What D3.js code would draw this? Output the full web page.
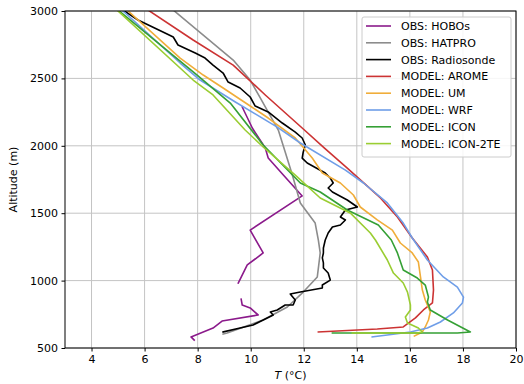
<!DOCTYPE html>
<html><head><meta charset="utf-8">
<script src="https://cdn.jsdelivr.net/npm/d3@7"></script>
<style>body{margin:0;background:#fff} text{font-family:"DejaVu Sans",sans-serif}</style>
</head><body><svg id="c" width="524" height="384"></svg>
<script>
const xTicks=[4,6,8,10,12,14,16,18,20];
const yTicks=[500,1000,1500,2000,2500,3000];
const seriesNames=["OBS: HOBOs","OBS: HATPRO","OBS: Radiosonde","MODEL: AROME","MODEL: UM","MODEL: WRF","MODEL: ICON","MODEL: ICON-2TE"];
const seriesColors=["#8b1a8b","#8c8c8c","#000000","#cc3333","#f0ad3a","#6f9ee8","#35a035","#9acd32"];
// [temperature °C, altitude m]
const hobos=[[9.68,2288],[10.06,2132],[10.55,1984],[10.66,1909],[11.23,1783],[11.94,1628],[9.98,1375],[10.47,1205],[9.87,1116],[9.53,982],null,[9.64,863],[9.68,819],[9.98,797],[10.28,745],[8.92,700],[8.58,648],[7.75,582],[7.87,559]];
const hatpro=[[7.08,3007],[9.34,2636],[9.98,2488],[10.36,2355],[11.04,2117],[11.30,1954],[11.57,1783],[11.87,1576],[12.43,1427],[12.55,1301],[12.62,1205],[12.51,1027],[11.98,915],[11.38,804],[10.47,708],[9.11,611],[8.96,604]];
const radiosonde=[[5.19,3007],[5.75,2933],[6.77,2837],[7.08,2807],[7.26,2748],[7.91,2688],[8.28,2651],[8.58,2599],[8.96,2540],[9.15,2473],[9.60,2429],[9.98,2362],[10.17,2295],[10.66,2251],[11.19,2169],[11.68,2102],[11.94,2058],[12.06,2006],[11.98,1954],[11.94,1909],[12.13,1872],[12.81,1798],[13.0,1761],[13.11,1724],[12.92,1687],[13.08,1657],[13.64,1598],[14.02,1546],[13.57,1524],[13.38,1472],[13.57,1450],[13.38,1412],[13.08,1398],[12.92,1353],[12.81,1301],[12.74,1242],[12.74,1205],[12.70,1168],[12.74,1131],[12.74,1093],[12.92,1056],[13.0,1004],[12.70,967],[12.70,945],[11.87,915],[11.49,901],[11.68,856],[11.60,819],[11.30,819],[11.0,782],[10.74,767],[10.85,745],[10.47,708],[10.09,671],[9.60,648],[8.96,619]];
const arome=[[6.13,3007],[7.83,2785],[9.34,2599],[10.55,2377],[11.94,2132],[12.77,1984],[13.64,1835],[14.89,1613],[15.53,1472],[16.09,1316],[16.66,1175],[16.85,1079],[16.89,930],[16.85,834],[16.51,782],[16.21,723],[15.75,656],[14.77,641],[12.55,619]];
const um=[[5.34,3007],[7.34,2651],[8.21,2525],[8.96,2429],[9.98,2295],[10.66,2206],[11.68,2058],[12.32,1909],[12.70,1798],[13.38,1724],[13.87,1635],[14.13,1546],[14.77,1450],[15.34,1375],[15.64,1279],[16.09,1205],[16.32,1138],[16.40,1027],[16.47,930],[16.58,856],[16.77,767],[16.70,708],[16.58,656],[16.47,619],[16.17,589]];
const wrf=[[5.15,3007],[7.34,2614],[8.09,2488],[9.42,2325],[11.0,2139],[11.87,2021],[13.57,1820],[14.25,1724],[15.15,1576],[15.75,1427],[16.09,1316],[16.66,1153],[17.26,1027],[17.79,952],[18.02,878],[17.98,834],[17.64,760],[17.15,693],[16.66,648],[16.02,619],[15.15,596],[14.58,582]];
const icon=[[5.0,3007],[7.98,2525],[9.23,2317],[10.47,2006],[11.87,1724],[12.62,1657],[13.64,1524],[14.81,1412],[15.30,1301],[15.53,1205],[15.75,1079],[16.28,1019],[16.58,967],[16.70,878],[16.66,841],[16.77,782],[17.42,708],[18.28,619],[17.79,611],[15.38,611],[13.08,611]];
const icon2te=[[4.96,3007],[7.83,2488],[8.58,2377],[9.79,2117],[10.47,1991],[11.68,1783],[12.62,1613],[13.75,1502],[14.51,1353],[14.70,1301],[15.15,1153],[15.38,1056],[15.75,982],[15.91,915],[16.02,819],[16.02,782],[15.83,730],[15.91,686],[16.32,648],[16.47,619],[16.28,611],[13.83,611]];
const allSeries=[hobos,hatpro,radiosonde,arome,um,wrf,icon,icon2te];

const L=65,R=516,T=11,B=348;
const svg=d3.select("#c");
const x=d3.scaleLinear().domain([3,20]).range([L,R]);
const y=d3.scaleLinear().domain([500,3000]).range([B,T]);

// grid
const g=svg.append("g");
g.selectAll(".gx").data(xTicks).enter().append("line")
 .attr("x1",d=>x(d)).attr("x2",d=>x(d)).attr("y1",T).attr("y2",B)
 .attr("stroke","#c4c4c4").attr("stroke-width",1);
g.selectAll(".gy").data(yTicks).enter().append("line")
 .attr("y1",d=>y(d)).attr("y2",d=>y(d)).attr("x1",L).attr("x2",R)
 .attr("stroke","#c4c4c4").attr("stroke-width",1);

svg.append("clipPath").attr("id","clip").append("rect").attr("x",L).attr("y",T).attr("width",R-L).attr("height",B-T);

const line=d3.line().defined(d=>d!==null).x(d=>x(d[0])).y(d=>y(d[1]));
const lg=svg.append("g").attr("clip-path","url(#clip)");
allSeries.forEach((s,i)=>{
 lg.append("path").attr("d",line(s)).attr("fill","none")
  .attr("stroke",seriesColors[i]).attr("stroke-width",1.6)
  .attr("stroke-linejoin","round").attr("stroke-linecap","square");
});

// axes
const xa=svg.append("g").attr("transform",`translate(0,${B})`)
 .call(d3.axisBottom(x).tickValues(xTicks).tickSize(3.5).tickPadding(3.5).tickFormat(d3.format("d")));
const ya=svg.append("g").attr("transform",`translate(${L},0)`)
 .call(d3.axisLeft(y).tickValues(yTicks).tickSize(3.5).tickPadding(3.5).tickFormat(d3.format("d")));
[xa,ya].forEach(a=>{a.select(".domain").remove();a.selectAll("text").attr("font-size",11).attr("fill","#000").style("font-family","DejaVu Sans");a.selectAll("line").attr("stroke","#000");});
svg.append("rect").attr("x",L).attr("y",T).attr("width",R-L).attr("height",B-T)
 .attr("fill","none").attr("stroke","#000").attr("stroke-width",1);

// axis labels
svg.append("text").attr("transform",`translate(17,${(T+B)/2}) rotate(-90)`)
 .attr("text-anchor","middle").attr("font-size",11).text("Altitude (m)");
const xl=svg.append("text").attr("x",(L+R)/2).attr("y",379).attr("text-anchor","middle").attr("font-size",11);
xl.append("tspan").attr("font-style","italic").text("T");
xl.append("tspan").text(" (°C)");

// legend
const lgd=svg.append("g");
lgd.append("rect").attr("x",362).attr("y",17).attr("width",149).attr("height",140).attr("rx",2)
 .attr("fill","#fff").attr("fill-opacity",0.85).attr("stroke","#cccccc");
seriesNames.forEach((n,i)=>{
 const yy=26+i*16.8;
 lgd.append("line").attr("x1",366).attr("x2",391).attr("y1",yy).attr("y2",yy)
  .attr("stroke",seriesColors[i]).attr("stroke-width",1.6);
 lgd.append("text").attr("x",401).attr("y",yy+4).attr("font-size",11).text(n);
});
</script></body></html>
